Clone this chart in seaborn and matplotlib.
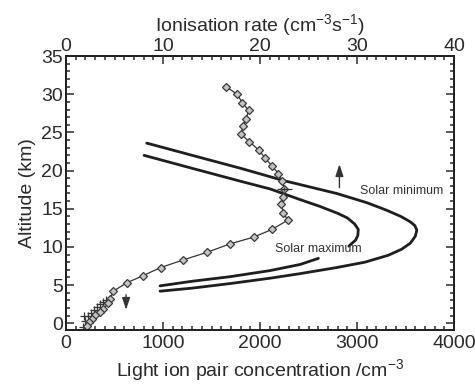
import numpy as np
import pandas as pd
import matplotlib
matplotlib.use("Agg")
import matplotlib.pyplot as plt
import seaborn as sns
from matplotlib.ticker import MultipleLocator

# ---- data ----
# measured light ion pair concentration (diamonds)
obs_alt = [31.0, 30.0, 28.9, 27.9, 26.8, 25.8, 24.8, 23.8, 22.7, 21.7, 20.6, 19.6,
           18.6, 17.6, 16.6, 15.6, 14.5, 13.5, 12.3, 11.3, 10.4, 9.3, 8.3, 7.3,
           6.25, 5.3, 4.2, 3.2, 2.6, 1.9, 1.5, 1.05, 0.6, 0.2, -0.4]
obs_conc = [1646, 1766, 1815, 1883, 1856, 1825, 1804, 1887, 1987, 2048, 2124, 2189,
            2230, 2251, 2240, 2217, 2240, 2285, 2124, 1938, 1691, 1454, 1210, 976,
            797, 626, 488, 454, 436, 385, 351, 299, 265, 240, 213]

# extra surface points (plus markers)
plus_conc = [170, 200, 230, 260, 290, 320, 350, 380, 410, 190, 240, 300]
plus_alt = [-0.5, 0.3, 0.9, 1.3, 1.7, 2.1, 2.5, 2.8, 3.1, 1.0, 0.0, 1.2]

# solar minimum (outer) curve
min_conc = [832, 1300, 1800, 2240, 2791, 3100, 3306, 3450, 3547, 3595, 3616,
            3600, 3550, 3460, 3320, 3080, 2791, 2413, 2103, 1691, 1300, 969]
min_alt = [23.6, 22.0, 20.3, 18.7, 17.0, 15.8, 14.8, 14.0, 13.3, 12.8, 12.2,
           11.4, 10.5, 9.7, 8.9, 8.0, 7.3, 6.5, 5.9, 5.2, 4.6, 4.2]

# solar maximum (inner) curve, upper part and lower part (gap at the label)
max_up_conc = [804, 1300, 1800, 2103, 2413, 2619, 2800, 2900, 2975, 3012, 3008, 2985, 2915]
max_up_alt = [22.0, 20.3, 18.6, 17.6, 16.2, 15.3, 14.4, 13.8, 13.0, 12.3, 11.5, 10.9, 10.1]
max_lo_conc = [969, 1300, 1691, 2103, 2413, 2601]
max_lo_alt = [4.9, 5.5, 6.1, 6.9, 7.7, 8.5]

# ---- figure ----
sns.set_style("ticks")
plt.rcParams["font.family"] = ["Liberation Sans", "DejaVu Sans"]
plt.rcParams["mathtext.default"] = "regular"

txt = "#2a2a2a"
fig = plt.figure(figsize=(4.75, 3.87), dpi=100)
ax = fig.add_axes([0.139, 0.147, 0.817, 0.708])

dark = "#1e1e1e"
sns.lineplot(x=min_conc, y=min_alt, sort=False, estimator=None, ax=ax,
             color=dark, linewidth=2.0)
sns.lineplot(x=max_up_conc, y=max_up_alt, sort=False, estimator=None, ax=ax,
             color=dark, linewidth=2.0)
sns.lineplot(x=max_lo_conc, y=max_lo_alt, sort=False, estimator=None, ax=ax,
             color=dark, linewidth=2.0)

obs = pd.DataFrame({"conc": obs_conc, "alt": obs_alt})
sns.lineplot(data=obs, x="conc", y="alt", sort=False, estimator=None, ax=ax,
             color="#333333", linewidth=0.9, marker="D", markersize=4.0,
             markerfacecolor="#c4c4c4", markeredgecolor="#3a3a3a",
             markeredgewidth=0.9)
sns.scatterplot(x=plus_conc, y=plus_alt, marker="+", s=40, color="#333333",
                linewidth=0.9, ax=ax)

# error bar on one observation
ax.errorbar([2251], [17.6], xerr=[80], yerr=[0.25], fmt="none", ecolor="#333333",
            elinewidth=0.9, capsize=0)

# arrows
ax.annotate("", xy=(2818, 21.2), xytext=(2818, 17.4),
            arrowprops=dict(arrowstyle="-|>,head_length=0.6,head_width=0.2",
                            color="#333333", lw=1.0, mutation_scale=12))
ax.annotate("", xy=(619, 1.4), xytext=(619, 4.1),
            arrowprops=dict(arrowstyle="-|>,head_length=0.6,head_width=0.2",
                            color="#333333", lw=1.0, mutation_scale=12))

ax.text(3031, 17.3, "Solar minimum", fontsize=9, color="#333333", va="center")
ax.text(2155, 9.7, "Solar maximum", fontsize=9, color="#333333", va="center")

ax.set_xlim(0, 4000)
ax.set_ylim(-0.9, 35)
ax.xaxis.set_major_locator(MultipleLocator(1000))
ax.xaxis.set_minor_locator(MultipleLocator(100))
ax.yaxis.set_major_locator(MultipleLocator(5))
ax.yaxis.set_minor_locator(MultipleLocator(1))
ax.tick_params(which="both", direction="in", top=False, right=True,
               colors=txt, labelsize=14, width=1.1)
ax.tick_params(which="major", length=6)
ax.tick_params(which="minor", length=3)
ax.tick_params(axis="y", pad=2)
ax.set_xlabel("Light ion pair concentration /cm$^{-3}$", fontsize=14, color=txt)
ax.set_ylabel("Altitude (km)", fontsize=14, color=txt, labelpad=4)

# top axis: ionisation rate
top = ax.twiny()
top.set_xlim(0, 40)
top.xaxis.set_major_locator(MultipleLocator(10))
top.xaxis.set_minor_locator(MultipleLocator(1))
top.tick_params(which="both", direction="in", colors=txt, labelsize=14, width=1.1,
                pad=1)
top.tick_params(which="major", length=6)
top.tick_params(which="minor", length=3)
top.set_xlabel("Ionisation rate (cm$^{-3}$s$^{-1}$)", fontsize=14, color=txt,
               labelpad=5)

for a in (ax, top):
    for s in a.spines.values():
        s.set_linewidth(1.4)
        s.set_color("#222222")

fig.savefig("out.png", dpi=100)
